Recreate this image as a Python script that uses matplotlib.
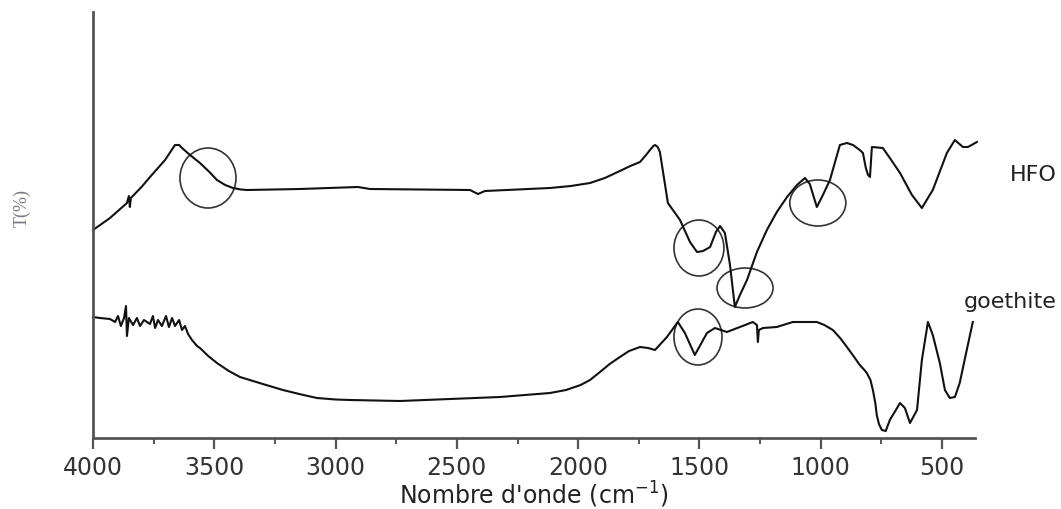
import matplotlib.pyplot as plt
from matplotlib.patches import Ellipse
from matplotlib.ticker import MultipleLocator

# spectra (wavenumber in cm-1, transmittance in arbitrary units)
hfo_wn = [4000, 3930, 3860, 3852, 3848, 3844, 3800, 3765, 3703, 3662, 3645, 3633, 3600,
          3559, 3520, 3489, 3455, 3423, 3390, 3365, 3147, 2908, 2858, 2446, 2413, 2384,
          2116, 2030, 1951, 1890, 1828, 1785, 1745, 1720, 1704, 1690, 1683, 1672,
          1663, 1630, 1580, 1539, 1510, 1485, 1456, 1432, 1415, 1395, 1374, 1354, 1333,
          1304, 1263, 1222, 1181, 1139, 1098, 1065, 1045, 1016, 991, 962, 921, 892, 867,
          839, 826, 814, 805, 797, 789, 744, 715, 673, 624, 583, 538, 480, 447, 414, 393, 356]
hfo_t = [208, 220, 235, 242, 231, 240, 251, 261, 278, 293, 293, 290, 283,
         275, 266, 258, 253, 250, 248.5, 248, 249, 251, 249, 248, 244, 247,
         250, 252, 255, 260, 267, 272, 276, 283, 288, 292, 293, 291,
         286, 235, 218, 196, 186, 187, 191, 206, 212, 205, 173, 131, 143,
         158, 186, 208, 226, 241, 253, 260, 254, 231, 243, 258, 293, 295, 293,
         288, 285, 270, 263, 261, 291, 290, 280, 265, 243, 230, 248, 285, 298, 291, 291, 296]

goe_wn = [4000, 3971, 3930, 3909, 3897, 3885, 3872, 3864, 3860, 3852, 3835, 3819, 3806,
          3790, 3765, 3753, 3744, 3732, 3716, 3699, 3687, 3674, 3662, 3645, 3633, 3621,
          3608, 3592, 3571, 3559, 3525, 3489, 3440, 3394, 3300, 3217, 3150, 3077, 3000,
          2941, 2735, 2528, 2322, 2116, 2050, 1990, 1951, 1910, 1870, 1828, 1790, 1745,
          1712, 1683, 1634, 1589, 1560, 1519, 1469, 1436, 1387,
          1333, 1280, 1263, 1259, 1255, 1238, 1181, 1115, 1016, 985, 950, 920, 892, 865,
          839, 820, 810, 795, 785, 775, 769, 760, 748, 732, 715, 673, 653, 632, 603, 583,
          558, 538, 509, 488, 468, 447, 427, 398, 373]
goe_t = [121, 120, 119, 116, 122, 112, 120, 132, 102, 120, 113, 120, 112,
         118, 114, 122, 110, 118, 112, 122, 111, 120, 112, 118, 108, 112,
         104, 98, 92, 90, 82, 75, 67, 61, 54, 48, 44, 40, 38.5,
         38, 37, 39, 41, 45, 48, 53, 58, 66, 74, 81, 87, 91,
         90, 88, 101, 116, 105, 83, 105, 110, 106,
         111, 116, 113, 96, 108, 110, 111, 116, 116, 113, 108, 100, 91, 82,
         73, 68, 65, 58, 48, 35, 23, 14, 8, 7, 18, 35, 30, 15, 28, 78,
         116, 103, 75, 48, 40, 41, 55, 88, 116]

# circled bands: centre wn, centre T, width (cm-1), height (T units)
circ_wn = [3526, 1502, 1312, 1012, 1506]
circ_t = [260, 190, 150, 235, 101]
circ_w = [231, 206, 231, 231, 198]
circ_h = [60, 56, 40, 46, 56]

fig = plt.figure(figsize=(10.61, 5.09), dpi=100)
ax = fig.add_axes([93 / 1061, 71 / 509, 882 / 1061, 426 / 509])

ax.plot(hfo_wn, hfo_t, color='#111111', lw=1.5, clip_on=False)
ax.plot(goe_wn, goe_t, color='#111111', lw=1.5, clip_on=False)

for cx, cy, w, h in zip(circ_wn, circ_t, circ_w, circ_h):
    ax.add_patch(Ellipse((cx, cy), w, h, fill=False, ec='#333333', lw=1.2))

ax.set_xlim(4000, 364)
ax.set_ylim(0, 426)
ax.xaxis.set_major_locator(MultipleLocator(500))
ax.xaxis.set_minor_locator(MultipleLocator(250))
ax.set_yticks([])
for s in ['top', 'right']:
    ax.spines[s].set_visible(False)
for s in ['left', 'bottom']:
    ax.spines[s].set_color('#555555')
    ax.spines[s].set_linewidth(2)
ax.tick_params(axis='x', which='major', length=8, width=1.6, color='#555555',
               labelsize=17, labelcolor='#333333', pad=5)
ax.tick_params(axis='x', which='minor', length=4, width=1.4, color='#555555')

ax.set_xlabel("Nombre d'onde (cm$^{-1}$)", fontsize=17, color='#222222', labelpad=0)
fig.text(22 / 1061, 1 - 208 / 509, 'T(%)', rotation=90, ha='center', va='center',
         fontsize=13, color='#7a7a88', family='Liberation Serif')

fig.text(1057 / 1061, 1 - 175 / 509, 'HFO', ha='right', va='center',
         fontsize=16, color='#222222')
fig.text(1057 / 1061, 1 - 302 / 509, 'goethite', ha='right', va='center',
         fontsize=16, color='#222222')

fig.savefig('out.png', dpi=100)
